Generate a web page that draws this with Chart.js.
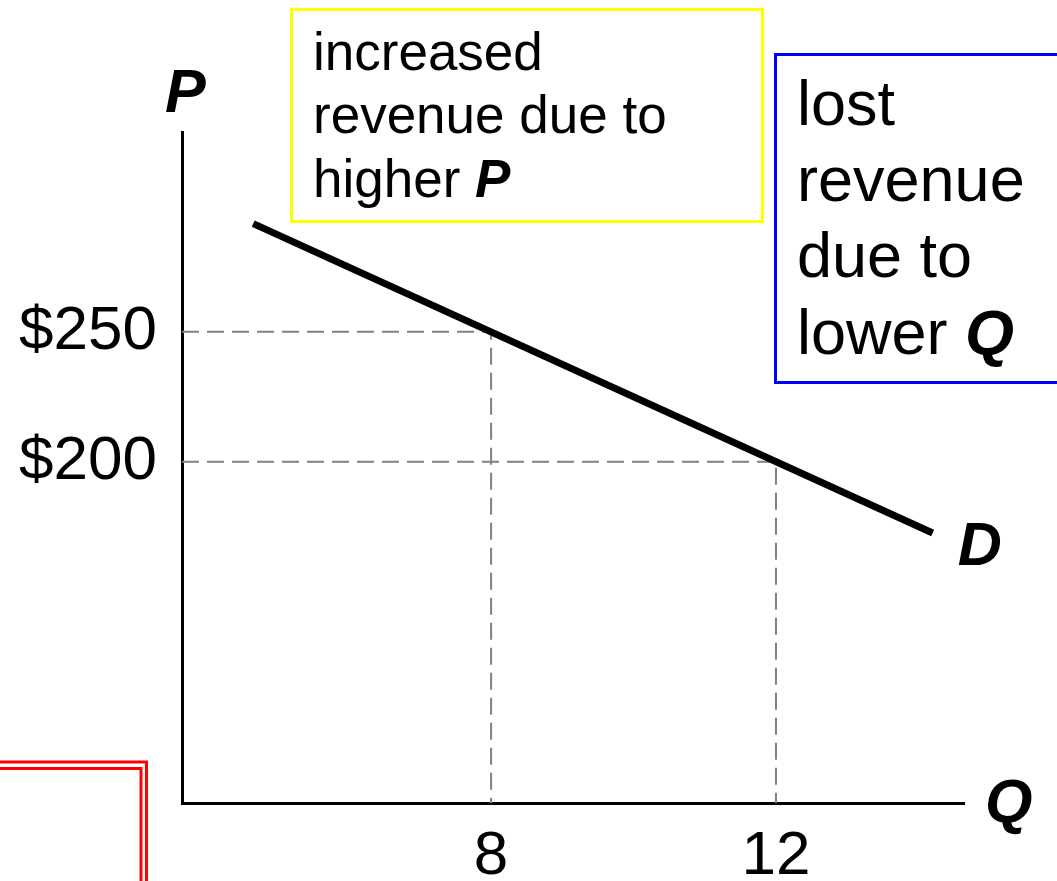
<!DOCTYPE html>
<html>
<head>
<meta charset="utf-8">
<title>Demand: higher price, lower quantity</title>
<script src="https://cdn.jsdelivr.net/npm/chart.js@4.4.1/dist/chart.umd.min.js"></script>
<style>
  html, body { margin: 0; padding: 0; background: #fff; }
  #wrap { position: relative; width: 1057px; height: 881px; }
</style>
</head>
<body>
<div id="wrap"><canvas id="demand" width="1057" height="881"></canvas></div>
<script>
// points marked on the axes
const quantities = [8, 12];
const prices = [250, 200];
// demand line, the two ends as drawn
const demandQ = [4.66, 14.2];
const demandP = [291.7, 172.5];
// visible axis ranges
const qRange = [3.66, 14.64];
const pRange = [68.5, 327];

const FONT = "'Liberation Sans', Arial, Helvetica, sans-serif";

// dashed guides: from the P axis across to the curve, then down to the Q axis
const guides = quantities.map((q, i) => ({
    type: 'scatter',
    showLine: true,
    data: [
        { x: qRange[0], y: prices[i] },
        { x: q, y: prices[i] },
        { x: q, y: pRange[0] }
    ],
    borderColor: '#808080',
    borderWidth: 2,
    borderDash: [17, 8],
    pointRadius: 0,
    order: 2
}));

// text boxes, axis names and the corner marks
const notes = {
    id: 'notes',
    afterDraw(chart) {
        const ctx = chart.ctx;
        const area = chart.chartArea;
        const xs = chart.scales.x, ys = chart.scales.y;
        ctx.save();

        // red double corner at the bottom left
        ctx.strokeStyle = '#ff0000';
        ctx.lineWidth = 3;
        ctx.lineJoin = 'miter';
        ctx.beginPath();
        ctx.moveTo(0, 762); ctx.lineTo(146.5, 762); ctx.lineTo(146.5, 881);
        ctx.moveTo(0, 768.5); ctx.lineTo(141, 768.5); ctx.lineTo(141, 881);
        ctx.stroke();

        ctx.fillStyle = '#000';
        ctx.textBaseline = 'alphabetic';
        ctx.textAlign = 'left';

        // yellow box
        ctx.strokeStyle = '#ffff00';
        ctx.strokeRect(291.5, 9.5, 471, 212);
        ctx.font = '53px ' + FONT;
        ctx.fillText('increased', 313, 70);
        ctx.fillText('revenue due to', 313, 133);
        ctx.fillText('higher ', 313, 197);
        let w = ctx.measureText('higher ').width;
        ctx.font = 'italic bold 53px ' + FONT;
        ctx.fillText('P', 313 + w, 197);

        // blue box, runs off the right edge
        ctx.strokeStyle = '#0000ff';
        ctx.strokeRect(775.5, 54.5, 320, 328);
        ctx.font = '63px ' + FONT;
        ctx.fillText('lost', 797, 125);
        ctx.fillText('revenue', 797, 201);
        ctx.fillText('due to', 797, 277);
        ctx.fillText('lower ', 797, 354);
        w = ctx.measureText('lower ').width;
        ctx.font = 'italic bold 63px ' + FONT;
        ctx.fillText('Q', 797 + w, 354);

        // axis names and curve label
        ctx.font = 'italic bold 61px ' + FONT;
        ctx.fillText('P', area.left - 17, area.top - 20);
        ctx.fillText('Q', area.right + 21, area.bottom + 19);
        const endX = xs.getPixelForValue(demandQ[1]);
        const endY = ys.getPixelForValue(demandP[1]);
        ctx.fillText('D', endX + 25, endY + 32);

        ctx.restore();
    }
};

new Chart(document.getElementById('demand'), {
    type: 'scatter',
    data: {
        datasets: [{
            showLine: true,
            data: demandQ.map((q, i) => ({ x: q, y: demandP[i] })),
            borderColor: '#000',
            borderWidth: 7,
            borderCapStyle: 'butt',
            pointRadius: 0,
            order: 1
        }].concat(guides)
    },
    options: {
        responsive: false,
        animation: false,
        devicePixelRatio: 1,
        layout: { padding: { top: 132, right: 93, left: 0, bottom: 0 } },
        plugins: {
            legend: { display: false },
            tooltip: { enabled: false }
        },
        scales: {
            x: {
                type: 'linear',
                min: qRange[0],
                max: qRange[1],
                afterFit(scale) { scale.height = 78; },
                afterBuildTicks(scale) { scale.ticks = quantities.map(v => ({ value: v })); },
                grid: { display: false, drawTicks: false },
                border: { display: true, color: '#000', width: 3 },
                ticks: {
                    padding: 17,
                    color: '#000',
                    font: { family: FONT, size: 62 },
                    callback: v => String(v)
                }
            },
            y: {
                type: 'linear',
                min: pRange[0],
                max: pRange[1],
                afterFit(scale) { scale.width = 182; },
                afterBuildTicks(scale) { scale.ticks = prices.map(v => ({ value: v })); },
                grid: { display: false, drawTicks: false },
                border: { display: true, color: '#000', width: 3 },
                ticks: {
                    padding: 25,
                    color: '#000',
                    font: { family: FONT, size: 62 },
                    callback: v => '$' + v
                }
            }
        }
    },
    plugins: [notes]
});
</script>
</body>
</html>
